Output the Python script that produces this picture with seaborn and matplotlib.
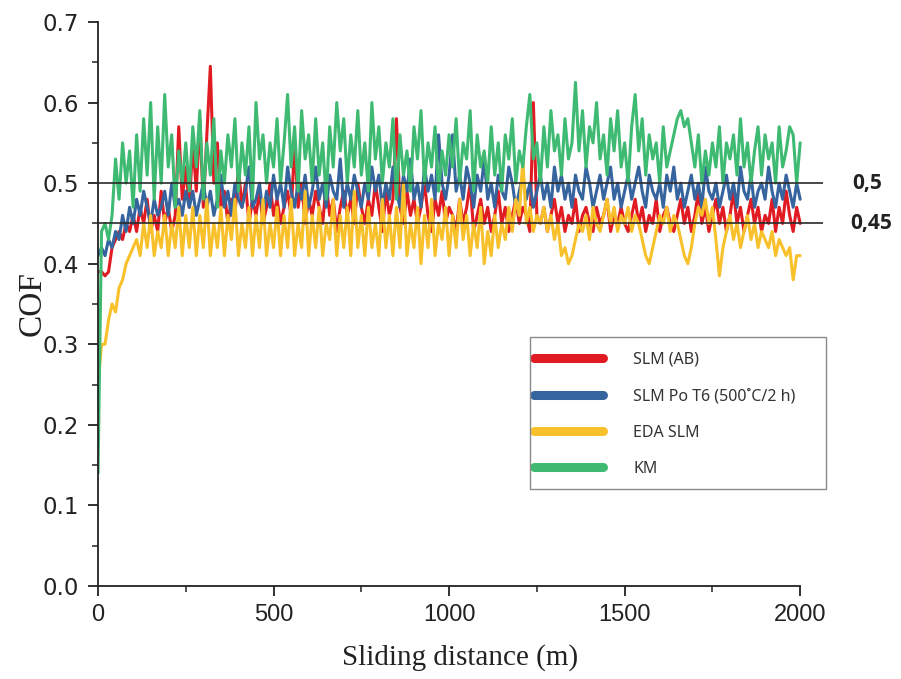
import numpy as np
import pandas as pd
import matplotlib
matplotlib.use("Agg")
import matplotlib.pyplot as plt
import seaborn as sns
from matplotlib.lines import Line2D
from matplotlib.patches import Rectangle
from matplotlib.ticker import MultipleLocator
import matplotlib.transforms as mtransforms

# ---------------- data (step 10 m) ----------------
distance = list(range(0, 2001, 10))

cof_km = [0.14, 0.44, 0.45, 0.43, 0.46, 0.53, 0.48, 0.55, 0.50, 0.54, 0.47,
          0.56, 0.49, 0.58, 0.51, 0.60, 0.48, 0.57, 0.50, 0.61, 0.52, 0.56, 0.47, 0.54, 0.50, 0.55,
          0.49, 0.57, 0.52, 0.59, 0.48, 0.55, 0.51, 0.58, 0.47, 0.54, 0.50, 0.56, 0.52, 0.58, 0.49, 0.55, 0.51, 0.57, 0.48, 0.60, 0.53, 0.56, 0.50, 0.55, 0.52,
          0.58, 0.50, 0.55, 0.61, 0.52, 0.57, 0.49, 0.59, 0.53, 0.56, 0.50, 0.58, 0.51, 0.55, 0.48, 0.57, 0.52, 0.60, 0.54, 0.58, 0.50, 0.56, 0.52, 0.59, 0.51,
          0.55, 0.49, 0.60, 0.53, 0.57, 0.50, 0.55, 0.52, 0.58, 0.48, 0.56, 0.51, 0.54, 0.49, 0.57, 0.53, 0.59, 0.50, 0.55, 0.52, 0.57, 0.49, 0.54, 0.51, 0.56,
          0.52, 0.58, 0.50, 0.55, 0.53, 0.59, 0.49, 0.56, 0.52, 0.54, 0.50, 0.57, 0.51, 0.55, 0.49, 0.56, 0.53, 0.58, 0.50, 0.54, 0.52, 0.57, 0.61, 0.53, 0.55,
          0.50, 0.57, 0.52, 0.59, 0.54, 0.56, 0.51, 0.58, 0.53, 0.55, 0.625, 0.54, 0.59, 0.52, 0.57, 0.55, 0.60, 0.53, 0.56, 0.51, 0.58, 0.54, 0.59, 0.52, 0.55,
          0.50, 0.57, 0.61, 0.54, 0.58, 0.51, 0.56, 0.53, 0.55, 0.50, 0.57, 0.52, 0.54, 0.56, 0.58, 0.59, 0.57, 0.58, 0.55, 0.52, 0.56, 0.50, 0.54, 0.51, 0.55,
          0.52, 0.57, 0.50, 0.55, 0.53, 0.56, 0.51, 0.58, 0.52, 0.55, 0.50, 0.54, 0.57, 0.51, 0.56, 0.53, 0.55, 0.50, 0.57, 0.52, 0.54, 0.57, 0.56, 0.50, 0.55]

cof_slm_ab = [0.39, 0.39, 0.385, 0.39, 0.42, 0.43, 0.44, 0.43, 0.45, 0.44, 0.46,
              0.44, 0.47, 0.45, 0.48, 0.44, 0.46, 0.44, 0.49, 0.45, 0.47, 0.44, 0.46, 0.57, 0.48, 0.52,
              0.47, 0.55, 0.49, 0.58, 0.47, 0.56, 0.645, 0.50, 0.55, 0.47, 0.49, 0.45, 0.48, 0.46, 0.52, 0.47, 0.50, 0.45, 0.48, 0.46, 0.49, 0.45, 0.47, 0.50, 0.46,
              0.48, 0.45, 0.47, 0.49, 0.46, 0.55, 0.47, 0.50, 0.45, 0.48, 0.46, 0.49, 0.47, 0.45, 0.50, 0.46, 0.48, 0.44, 0.47, 0.49, 0.46, 0.48, 0.45, 0.50, 0.47,
              0.45, 0.48, 0.46, 0.50, 0.47, 0.44, 0.49, 0.46, 0.48, 0.58, 0.47, 0.45, 0.49, 0.46, 0.48, 0.45, 0.47, 0.50, 0.46, 0.44, 0.48, 0.46, 0.49, 0.45, 0.47,
              0.46, 0.44, 0.48, 0.45, 0.47, 0.50, 0.44, 0.46, 0.48, 0.45, 0.47, 0.44, 0.46, 0.49, 0.45, 0.47, 0.44, 0.46, 0.48, 0.45, 0.47, 0.46, 0.44, 0.60, 0.46,
              0.45, 0.47, 0.44, 0.46, 0.48, 0.45, 0.47, 0.44, 0.46, 0.45, 0.48, 0.44, 0.46, 0.47, 0.45, 0.44, 0.47, 0.45, 0.46, 0.48, 0.44, 0.46, 0.45, 0.47, 0.45,
              0.44, 0.46, 0.48, 0.45, 0.47, 0.44, 0.46, 0.45, 0.48, 0.44, 0.46, 0.47, 0.45, 0.44, 0.46, 0.48, 0.45, 0.47, 0.44, 0.46, 0.49, 0.45, 0.47, 0.44, 0.46,
              0.48, 0.45, 0.47, 0.44, 0.46, 0.49, 0.45, 0.47, 0.44, 0.46, 0.48, 0.45, 0.47, 0.44, 0.46, 0.45, 0.48, 0.44, 0.47, 0.45, 0.49, 0.46, 0.44, 0.47, 0.45]

cof_slm_t6 = [0.41, 0.42, 0.41, 0.43, 0.42, 0.44, 0.43, 0.46, 0.44, 0.47, 0.45,
              0.48, 0.46, 0.49, 0.47, 0.45, 0.48, 0.46, 0.47, 0.49, 0.46, 0.50, 0.47, 0.48, 0.46, 0.49,
              0.47, 0.49, 0.46, 0.48, 0.50, 0.47, 0.49, 0.46, 0.48, 0.51, 0.47, 0.49, 0.46, 0.50, 0.48, 0.47, 0.49, 0.52, 0.47, 0.48, 0.50, 0.46, 0.49, 0.47, 0.51,
              0.48, 0.50, 0.47, 0.52, 0.49, 0.47, 0.50, 0.48, 0.51, 0.47, 0.49, 0.52, 0.48, 0.50, 0.47, 0.51, 0.49, 0.48, 0.53, 0.47, 0.50, 0.48, 0.51, 0.49, 0.47,
              0.50, 0.48, 0.52, 0.49, 0.51, 0.47, 0.50, 0.48, 0.52, 0.49, 0.47, 0.51, 0.49, 0.53, 0.48, 0.50, 0.47, 0.52, 0.49, 0.51, 0.48, 0.56, 0.50, 0.48, 0.51,
              0.56, 0.49, 0.51, 0.48, 0.52, 0.50, 0.47, 0.51, 0.49, 0.53, 0.48, 0.50, 0.47, 0.51, 0.49, 0.48, 0.52, 0.50, 0.47, 0.49, 0.51, 0.48, 0.50, 0.47, 0.49,
              0.51, 0.48, 0.50, 0.47, 0.52, 0.49, 0.51, 0.48, 0.50, 0.47, 0.51, 0.49, 0.48, 0.52, 0.50, 0.47, 0.49, 0.51, 0.48, 0.50, 0.52, 0.48, 0.50, 0.47, 0.49,
              0.51, 0.48, 0.50, 0.52, 0.49, 0.47, 0.51, 0.49, 0.48, 0.50, 0.47, 0.51, 0.49, 0.52, 0.48, 0.50, 0.47, 0.49, 0.51, 0.48, 0.50, 0.47, 0.52, 0.49, 0.48,
              0.50, 0.47, 0.49, 0.51, 0.48, 0.50, 0.47, 0.52, 0.49, 0.48, 0.51, 0.47, 0.49, 0.50, 0.48, 0.52, 0.49, 0.47, 0.50, 0.48, 0.51, 0.49, 0.47, 0.50, 0.48]

cof_eda_slm = [0.25, 0.30, 0.30, 0.33, 0.35, 0.34, 0.37, 0.38, 0.40, 0.41, 0.42,
               0.43, 0.41, 0.45, 0.42, 0.46, 0.41, 0.44, 0.42, 0.46, 0.41, 0.45, 0.42, 0.47, 0.41, 0.46,
               0.42, 0.47, 0.41, 0.46, 0.42, 0.48, 0.41, 0.45, 0.42, 0.47, 0.41, 0.46, 0.43, 0.48, 0.41, 0.45, 0.42, 0.47, 0.41, 0.46, 0.42, 0.48, 0.41, 0.45, 0.42,
               0.47, 0.41, 0.46, 0.42, 0.48, 0.41, 0.45, 0.42, 0.49, 0.41, 0.46, 0.42, 0.47, 0.41, 0.45, 0.43, 0.48, 0.41, 0.46, 0.42, 0.47, 0.41, 0.49, 0.42, 0.46,
               0.41, 0.47, 0.42, 0.45, 0.41, 0.48, 0.42, 0.46, 0.41, 0.47, 0.42, 0.50, 0.41, 0.45, 0.42, 0.47, 0.40, 0.46, 0.42, 0.48, 0.41, 0.45, 0.43, 0.47, 0.41,
               0.46, 0.42, 0.48, 0.43, 0.46, 0.41, 0.45, 0.42, 0.47, 0.40, 0.44, 0.41, 0.46, 0.42, 0.45, 0.43, 0.47, 0.44, 0.48, 0.46, 0.53, 0.45, 0.47, 0.44, 0.46,
               0.45, 0.47, 0.44, 0.46, 0.43, 0.45, 0.41, 0.42, 0.40, 0.41, 0.43, 0.45, 0.44, 0.46, 0.43, 0.47, 0.45, 0.44, 0.46, 0.48, 0.45, 0.47, 0.44, 0.46, 0.45,
               0.47, 0.44, 0.46, 0.45, 0.43, 0.41, 0.40, 0.42, 0.44, 0.46, 0.45, 0.47, 0.44, 0.46, 0.45, 0.43, 0.41, 0.40, 0.42, 0.45, 0.47, 0.46, 0.48, 0.45, 0.47,
               0.43, 0.385, 0.42, 0.44, 0.46, 0.43, 0.45, 0.42, 0.44, 0.46, 0.43, 0.45, 0.42, 0.44, 0.43, 0.42, 0.44, 0.41, 0.43, 0.42, 0.41, 0.42, 0.38, 0.41, 0.41]

series_names = ["SLM (AB)", "SLM Po T6 (500˚C/2 h)", "EDA SLM", "KM"]
reference_levels = [0.5, 0.45]
reference_labels = ["0,5", "0,45"]

colors = {"SLM (AB)": "#e01b22", "SLM Po T6 (500˚C/2 h)": "#36649f",
          "EDA SLM": "#f8c12c", "KM": "#3fba72"}

# ---------------- figure ----------------
sns.set_style("ticks")
plt.rcParams["font.family"] = ["Liberation Sans", "DejaVu Sans"]

df = pd.DataFrame({
    "distance": distance * 4,
    "cof": cof_slm_ab + cof_slm_t6 + cof_eda_slm + cof_km,
    "series": sum([[n] * len(distance) for n in series_names], []),
})

fig = plt.figure(figsize=(9.01, 6.79), dpi=100)
ax = fig.add_axes([98 / 901, 1 - 586 / 679, 725 / 901, 564 / 679])

sns.lineplot(data=df, x="distance", y="cof", hue="series", hue_order=series_names,
             palette=colors, linewidth=2.2, ax=ax, legend=False, estimator=None,
             sort=False)

for lvl in reference_levels:
    ax.axhline(lvl, color="#2b2b2b", lw=1.2, zorder=5)

ax.set_xlim(0, 2065)
ax.set_ylim(0, 0.7)
ax.spines["bottom"].set_bounds(0, 2000)
sns.despine(ax=ax)
for s in ["left", "bottom"]:
    ax.spines[s].set_linewidth(1.3)
    ax.spines[s].set_color("#222222")

ax.set_xticks([0, 500, 1000, 1500, 2000])
ax.xaxis.set_minor_locator(MultipleLocator(250))
ax.yaxis.set_minor_locator(MultipleLocator(0.05))
ax.set_yticks([0.0, 0.1, 0.2, 0.3, 0.4, 0.5, 0.6, 0.7])
ax.set_yticklabels([f"{v:.1f}" for v in ax.get_yticks()], family="DejaVu Sans",
                   fontsize=16.5)
ax.tick_params(which="major", direction="out", length=7, width=1.3, color="#222222",
               labelcolor="#222222")
ax.tick_params(axis="x", labelsize=17, pad=6)
ax.tick_params(axis="y", pad=7)
ax.tick_params(which="minor", direction="out", length=4, width=1.1, color="#222222")

ax.set_xlabel("Sliding distance (m)", family="Liberation Serif", fontsize=21,
              color="#222222", labelpad=13)
ax.set_ylabel("COF", family="Liberation Serif", fontsize=24, color="#222222")
ax.yaxis.set_label_coords((48 - 98) / 725, 0.5)

# labels of the reference lines on the right
trans = mtransforms.blended_transform_factory(ax.transAxes, ax.transData)
for lvl, lab, dx in zip(reference_levels, reference_labels, [1.04, 1.037]):
    ax.text(dx, lvl, lab, transform=trans, fontsize=15, fontweight="bold",
            family="Open Sans", color="#222222", va="center", ha="left")

# legend
handles = [Line2D([0], [0], color=colors[n], lw=6.5, solid_capstyle="round")
           for n in series_names]
leg = ax.legend(handles, series_names, loc="upper left",
                bbox_to_anchor=((534 - 98) / 725, (586 - 352) / 564),
                frameon=False, handlelength=4.3, handletextpad=1.9,
                labelspacing=1.27, borderpad=0, borderaxespad=0,
                prop={"family": "Noto Sans", "size": 11.5})
for t in leg.get_texts():
    t.set_color("#333333")
ax.add_patch(Rectangle(((530 - 98) / 725, (586 - 489) / 564), 296 / 725, 152 / 564,
                       transform=ax.transAxes, fill=False, edgecolor="#8a8a8a",
                       lw=1.0, clip_on=False, zorder=6))

fig.savefig("out.png", dpi=100)
